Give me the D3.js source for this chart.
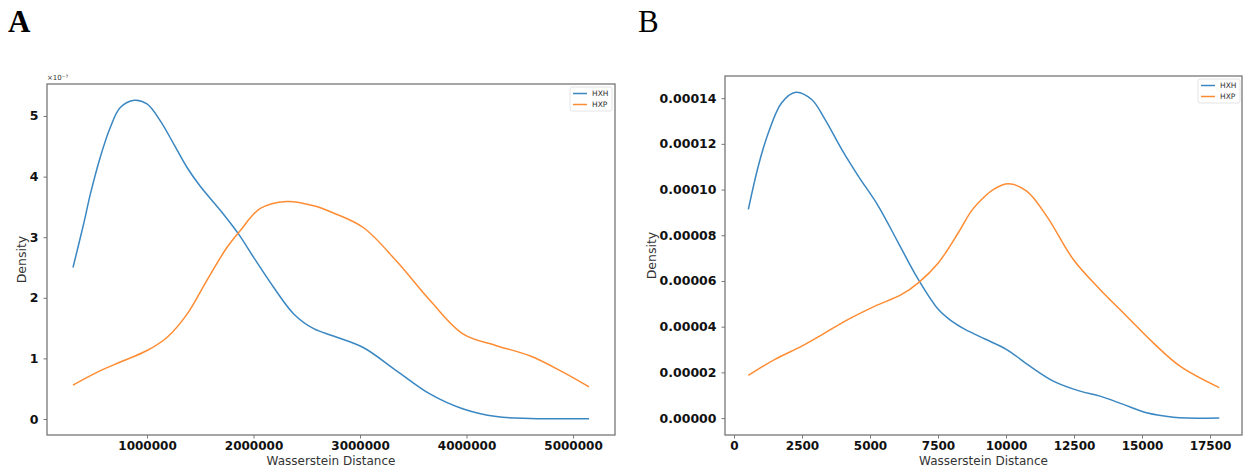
<!DOCTYPE html>
<html>
<head>
<meta charset="utf-8">
<script src="https://cdn.jsdelivr.net/npm/d3@7"></script>
<style>
  body { margin: 0; background: #fff; }
  svg { display: block; }
</style>
</head>
<body>
<div id="chart"></div>
<script>
// data
const seriesNames = ["HXH", "HXP"];

// panel A: density in units of 1e-7
const hxhA = [[305000,2.50],[405000,3.22],[468000,3.71],[561000,4.32],[655000,4.81],[749000,5.14],
  [881000,5.26],[1000000,5.20],[1125000,4.92],[1250000,4.54],[1376000,4.15],[1500000,3.84],
  [1690000,3.44],[1860000,3.05],[2000000,2.67],[2190000,2.17],[2380000,1.73],[2565000,1.49],
  [2750000,1.37],[3030000,1.18],[3340000,0.80],[3660000,0.41],[3970000,0.165],[4280000,0.04],
  [4600000,0.01],[5150000,0.005]];
const hxpA = [[305000,0.56],[530000,0.77],[750000,0.94],[1000000,1.13],[1190000,1.35],[1376000,1.73],
  [1560000,2.28],[1750000,2.83],[1876000,3.11],[2060000,3.47],[2310000,3.59],[2565000,3.52],
  [2750000,3.40],[3030000,3.16],[3340000,2.61],[3660000,1.95],[3970000,1.40],[4280000,1.21],
  [4600000,1.04],[4910000,0.77],[5150000,0.53]];
const xTicksA = [1000000, 2000000, 3000000, 4000000, 5000000];
const yTicksA = [0, 1, 2, 3, 4, 5];

// panel B
const hxhB = [[527,9.13e-5],[894,11.03e-5],[1261,12.48e-5],[1753,13.80e-5],[2268,14.26e-5],[2856,13.94e-5],
  [3345,13.07e-5],[3959,11.76e-5],[4570,10.59e-5],[5305,9.28e-5],[6040,7.67e-5],[6775,6.07e-5],
  [7510,4.76e-5],[8003,4.24e-5],[8492,3.88e-5],[9227,3.46e-5],[10024,3.00e-5],[10880,2.27e-5],[11738,1.62e-5],
  [12720,1.18e-5],[13455,0.96e-5],[14313,0.60e-5],[15171,0.23e-5],[16150,0.04e-5],[17840,0.0]];
const hxpB = [[527,1.87e-5],[1507,2.57e-5],[2489,3.15e-5],[3345,3.73e-5],[4203,4.32e-5],[5184,4.90e-5],
  [6165,5.41e-5],[6775,5.92e-5],[7510,6.79e-5],[8245,8.11e-5],[8750,9.10e-5],[9227,9.71e-5],[9533,10.0e-5],
  [10085,10.25e-5],[10760,9.93e-5],[11495,8.84e-5],[12475,6.94e-5],[13455,5.63e-5],[14436,4.46e-5],
  [15416,3.29e-5],[16397,2.27e-5],[17840,1.33e-5]];
const xTicksB = [0, 2500, 5000, 7500, 10000, 12500, 15000, 17500];
const yTicksB = [0, 0.00002, 0.00004, 0.00006, 0.00008, 0.0001, 0.00012, 0.00014];

const colors = ["#3a87c2", "#ff8c33"];

const W = 1249, H = 467;
const svg = d3.select("#chart").append("svg").attr("width", W).attr("height", H);

const panels = [
  { letter: "A", bold: true, lx: 8, box: {l: 47, t: 84, r: 615, b: 435},
    xDom: [61000, 5394000], yDom: [-0.264, 5.528],
    xTicks: xTicksA, yTicks: yTicksA, xFmt: d3.format("d"), yFmt: d3.format("d"),
    series: [hxhA, hxpA], offset: "\u00d710\u207b\u2077", legend: {x: 570, y: 87}, ylabX: 22 },
  { letter: "B", bold: false, lx: 638, box: {l: 725, t: 76, r: 1242, b: 435},
    xDom: [-331, 18676], yDom: [-0.0000074, 0.0001497],
    xTicks: xTicksB, yTicks: yTicksB, xFmt: d3.format("d"), yFmt: d3.format(".5f"),
    series: [hxhB, hxpB], offset: null, legend: {x: 1198, y: 79}, ylabX: 652 }
];

panels.forEach(p => {
  const b = p.box;
  const x = d3.scaleLinear().domain(p.xDom).range([b.l, b.r]);
  const y = d3.scaleLinear().domain(p.yDom).range([b.b, b.t]);

  // panel letter
  svg.append("text")
    .attr("x", p.lx).attr("y", 32)
    .attr("font-family", "'Liberation Serif', 'DejaVu Serif', serif")
    .attr("font-size", 31)
    .attr("font-weight", p.bold ? "bold" : "normal")
    .attr("fill", "#000")
    .text(p.letter);

  // axes
  const xAxis = svg.append("g")
    .attr("transform", `translate(0,${b.b})`)
    .call(d3.axisBottom(x).tickValues(p.xTicks).tickFormat(p.xFmt).tickSize(3.5).tickPadding(3));
  const yAxis = svg.append("g")
    .attr("transform", `translate(${b.l},0)`)
    .call(d3.axisLeft(y).tickValues(p.yTicks).tickFormat(p.yFmt).tickSize(3.5).tickPadding(5));
  [xAxis, yAxis].forEach(g => {
    g.select(".domain").remove();
    g.selectAll(".tick line").attr("stroke", "#555").attr("stroke-width", 0.8);
    g.selectAll(".tick text")
      .attr("font-family", "'DejaVu Sans', sans-serif")
      .attr("font-size", 12.5)
      .attr("font-weight", "bold")
      .attr("fill", "#111");
  });
  xAxis.selectAll(".tick text").attr("font-size", 12);

  // curves
  const line = d3.line().x(d => x(d[0])).y(d => y(d[1])).curve(d3.curveCatmullRom.alpha(0.5));
  p.series.forEach((s, i) => {
    svg.append("path")
      .datum(s)
      .attr("fill", "none")
      .attr("stroke", colors[i])
      .attr("stroke-width", 1.5)
      .attr("d", line);
  });

  // frame
  svg.append("rect")
    .attr("x", b.l).attr("y", b.t)
    .attr("width", b.r - b.l).attr("height", b.b - b.t)
    .attr("fill", "none").attr("stroke", "#777").attr("stroke-width", 1.3);

  // axis labels
  svg.append("text")
    .attr("x", (b.l + b.r) / 2).attr("y", 465)
    .attr("text-anchor", "middle")
    .attr("font-family", "'DejaVu Sans', sans-serif")
    .attr("font-size", 12)
    .attr("fill", "#333")
    .text("Wasserstein Distance");
  svg.append("text")
    .attr("transform", `translate(${p.ylabX},${(b.t + b.b) / 2}) rotate(-90)`)
    .attr("text-anchor", "middle")
    .attr("dy", "0.35em")
    .attr("font-family", "'DejaVu Sans', sans-serif")
    .attr("font-size", 12.5)
    .attr("fill", "#333")
    .text("Density");

  if (p.offset) {
    svg.append("text")
      .attr("x", b.l).attr("y", b.t - 4)
      .attr("font-family", "'DejaVu Sans', sans-serif")
      .attr("font-size", 7)
      .attr("fill", "#333")
      .text(p.offset);
  }

  // legend
  const lg = svg.append("g").attr("transform", `translate(${p.legend.x},${p.legend.y})`);
  lg.append("rect")
    .attr("width", 42).attr("height", 24).attr("rx", 2)
    .attr("fill", "#fff").attr("stroke", "#ddd").attr("stroke-width", 0.8);
  seriesNames.forEach((n, i) => {
    const yy = 6.5 + i * 11;
    lg.append("line")
      .attr("x1", 3).attr("x2", 17).attr("y1", yy).attr("y2", yy)
      .attr("stroke", colors[i]).attr("stroke-width", 1.5);
    lg.append("text")
      .attr("x", 22).attr("y", yy).attr("dy", "0.35em")
      .attr("font-family", "'DejaVu Sans', sans-serif")
      .attr("font-size", 7.5)
      .attr("fill", "#333")
      .text(n);
  });
});
</script>
</body>
</html>
